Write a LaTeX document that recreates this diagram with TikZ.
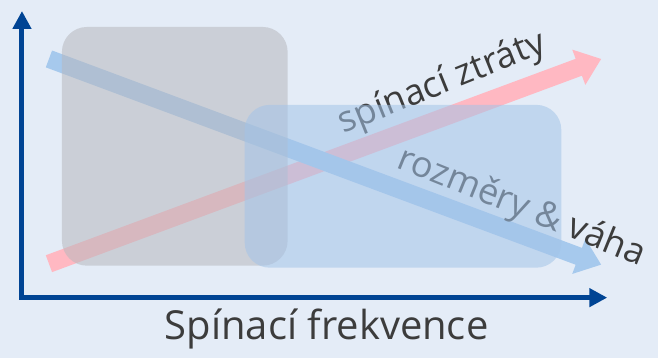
\documentclass[tikz,border=0pt]{standalone}
\usepackage{fontspec}
\setmainfont{Open Sans}
\usetikzlibrary{arrows.meta}
\definecolor{bgblue}{RGB}{228,236,247}
\definecolor{axisblue}{RGB}{0,68,148}
\definecolor{lossred}{RGB}{255,184,194}
\definecolor{sizeblue}{RGB}{166,201,237}
\definecolor{boxgray}{RGB}{183,184,190}
\definecolor{boxblue}{RGB}{163,196,232}
\definecolor{labelgray}{RGB}{60,60,60}
\tikzset{
  axis/.style={axisblue,line width=2.5pt,{Triangle[width=9pt,length=9pt]}-{Triangle[width=9pt,length=9pt]}},
  trend/.style={line width=9pt,-{Triangle[width=18pt,length=12pt]}},
  label/.style={text=labelgray,font=\fontsize{18}{21}\selectfont},
  region/.style={opacity=0.55,rounded corners=12.5pt}
}
\begin{document}
\begin{tikzpicture}[x=0.5pt,y=-0.5pt]
  \fill[bgblue] (0,0) rectangle (659,358);
  % axes
  \coordinate (ytip) at (22,11);
  \coordinate (xtip) at (608,298);
  \draw[axis] (ytip) |- (xtip);
  \node[label,font=\fontsize{20}{24}\selectfont] (xlabel) at (327,329) {Spínací frekvence};
  % trends
  \coordinate (lossstart) at (49,264);
  \coordinate (lossend) at (602,59);
  \coordinate (sizestart) at (49,59);
  \coordinate (sizeend) at (602,265);
  \draw[trend,lossred] (lossstart) -- (lossend);
  \draw[trend,sizeblue] (sizestart) -- (sizeend);
  \node[label,rotate=22] (losslabel) at (443,84) {spínací ztráty};
  \node[label,rotate=-22] (sizelabel) at (522,208) {rozměry \& váha};
  % regions
  \fill[boxgray,region] (62,27) rectangle (288,266);
  \fill[boxblue,region] (245,105) rectangle (562,268);
\end{tikzpicture}
\end{document}
